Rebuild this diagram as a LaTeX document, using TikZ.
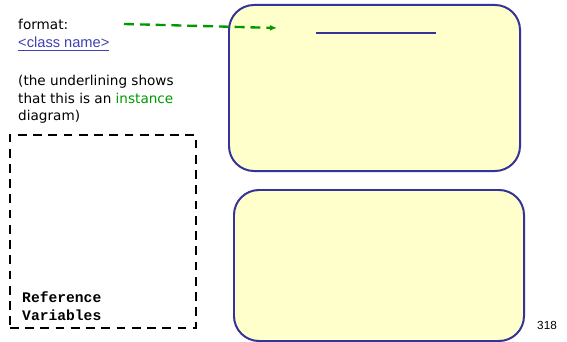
\documentclass[tikz,border=0pt]{standalone}
\usepackage{fontspec}
\setmainfont{DejaVu Sans}
\setmonofont{Liberation Mono}
\newfontfamily\arialfont{Liberation Sans}
\usetikzlibrary{positioning, arrows.meta}
\definecolor{boxfill}{RGB}{255,255,204}
\definecolor{boxline}{RGB}{51,51,153}
\definecolor{greenc}{RGB}{0,153,0}
\definecolor{linkc}{RGB}{64,64,176}

\begin{document}
\begin{tikzpicture}[x=0.03cm, y=-0.03cm, font=\fontsize{11.6}{15}\selectfont,
  objbox/.style={draw=boxline, fill=boxfill, line width=1.7pt, rounded corners=0.75cm, inner sep=0pt},
  refbox/.style={draw=black, line width=2.4pt, dash pattern=on 7.5pt off 5.5pt, inner sep=0pt},
  nameline/.style={draw=boxline, line width=1.5pt},
  fmtarrow/.style={draw=greenc, line width=2pt, dash pattern=on 8.5pt off 5pt, -{Latex[length=6pt,width=5pt]}},
  txt/.style={inner sep=0pt, anchor=base west}]
  \useasboundingbox (0,0) rectangle (567,342);
  % objects
  \node[objbox, minimum width=8.73cm, minimum height=4.98cm] (obja) at (374.5,88) {};
  \node[objbox, minimum width=8.7cm, minimum height=4.53cm] (objb) at (379,265.5) {};
  \draw[nameline] (316,33) -- (436,33);
  % reference variables
  \node[refbox, minimum width=5.58cm, minimum height=5.79cm] (refs) at (103,231.5) {};
  \node[txt, align=left, font=\ttfamily\bfseries\fontsize{12.5}{15.3}\selectfont] (reflbl) at (22,320) {Reference\\Variables};
  % format note
  \node[txt] (fmt) at (18,30) {format:};
  \node[txt, text=linkc, font=\arialfont\fontsize{12.5}{14}\selectfont] (cname) at (18,48) {\underline{<class name>}};
  \node[txt, align=left, font=\fontsize{11.6}{14.9}\selectfont] (note) at (18,120.5)
    {(the underlining shows\\that this is an {\color{greenc}instance}\\diagram)};
  \coordinate (fmtstart) at (124,24);
  \coordinate (fmtend) at (277,28);
  \draw[fmtarrow] (fmtstart) -- (fmtend);
  \node[txt, font=\arialfont\fontsize{10}{12}\selectfont] (pgno) at (537,329) {318};
\end{tikzpicture}
\end{document}
